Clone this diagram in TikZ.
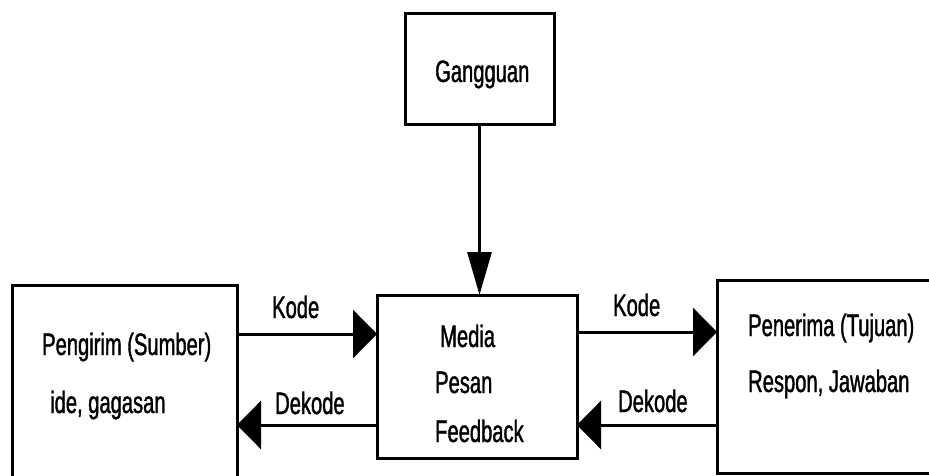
\documentclass[tikz,border=0pt]{standalone}
\usepackage{fontspec}
\setmainfont[FakeStretch=0.65,FakeBold=1.2]{Liberation Sans}
\usetikzlibrary{arrows.meta}
\begin{document}
\begin{tikzpicture}[x=1pt,y=-1pt,
  box/.style={draw=black,line width=3pt,fill=white,outer sep=0pt,inner sep=0pt},
  lbl/.style={inner sep=0pt,anchor=base west,font=\fontsize{31}{33}\selectfont},
  harr/.style={line width=3pt,-{Triangle[length=24pt,width=48pt]}},
  varr/.style={line width=3pt,-{Triangle[length=43pt,width=24pt]}}]
\useasboundingbox (0,0) rectangle (929,476);
\clip (0,0) rectangle (929,476);
\node[box,minimum width=225pt,minimum height=240pt] (send) at (124.5,405) {};
\node[box,minimum width=230pt,minimum height=193pt] (recv) at (832,376.5) {};
\node[box,minimum width=200pt,minimum height=163pt] (media) at (477,376.5) {};
\node[box,minimum width=149pt,minimum height=111pt] (gang) at (479.5,69.5) {};
\node[lbl] (tg) at (435,82) {Gangguan};
\node[lbl] (ts1) at (42,355) {Pengirim (Sumber)};
\node[lbl] (ts2) at (50,413) {ide, gagasan};
\node[lbl] (tm1) at (440,347) {Media};
\node[lbl] (tm2) at (435,393) {Pesan};
\node[lbl] (tm3) at (435,442) {Feedback};
\node[lbl] (tr1) at (748,336) {Penerima (Tujuan)};
\node[lbl] (tr2) at (748,392) {Respon, Jawaban};
\node[lbl] (k1) at (272,318) {Kode};
\node[lbl] (d1) at (275,414) {Dekode};
\node[lbl] (k2) at (613,316) {Kode};
\node[lbl] (d2) at (618,412) {Dekode};
\draw[harr] (send.east |- 0,334) -- (media.west |- 0,334);
\draw[harr] (media.west |- 0,425) -- (send.east |- 0,425);
\draw[harr] (media.east |- 0,332) -- (recv.west |- 0,332);
\draw[harr] (recv.west |- 0,425) -- (media.east |- 0,425);
\draw[varr] (gang.south) -- (gang.south |- media.north);
\end{tikzpicture}
\end{document}
